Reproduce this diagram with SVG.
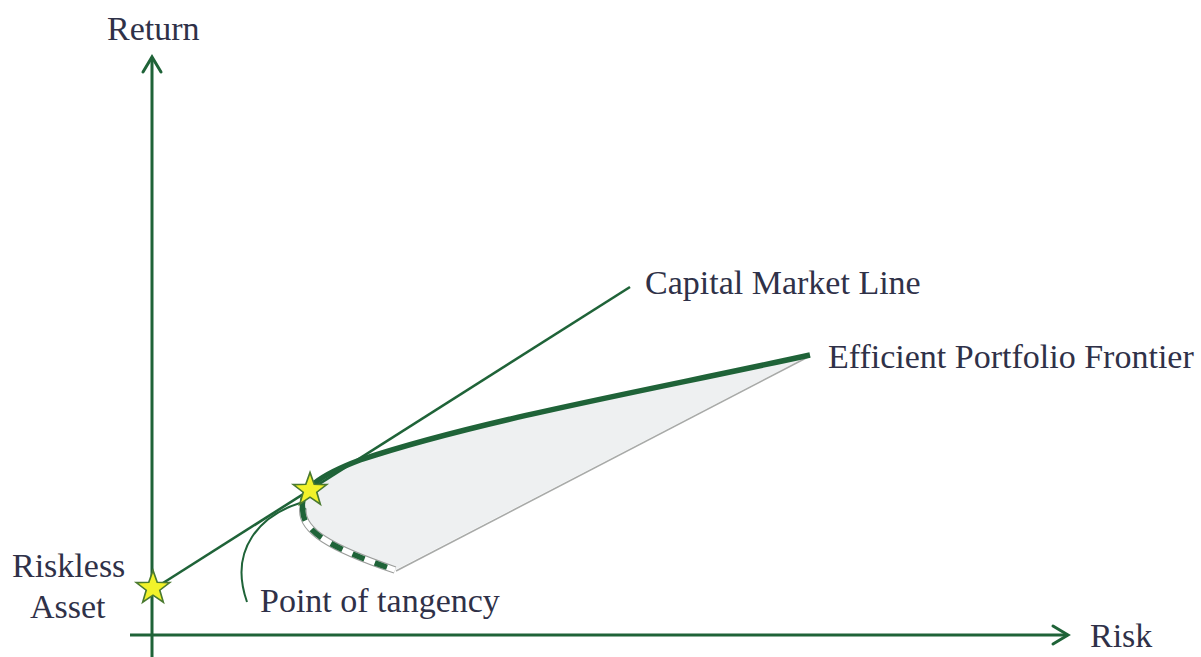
<svg xmlns="http://www.w3.org/2000/svg" width="1201" height="657" viewBox="0 0 1201 657">
<defs>
<style>
.lbl{font-family:"Liberation Serif","Times New Roman",serif;font-size:34px;fill:#2f3148}
.ax{stroke:#1f6338;stroke-width:3;fill:none}
.arr{stroke:#1f6338;stroke-width:3;fill:none;stroke-linecap:round;stroke-linejoin:miter}
.star{fill:#f2f22a;stroke:#4a7a30;stroke-width:1.5;stroke-linejoin:miter}
</style>
<path id="starShape" d="M0,-16 L3.82,-5.26 L15.22,-4.94 L6.18,2.01 L9.4,12.94 L0,6.5 L-9.4,12.94 L-6.18,2.01 L-15.22,-4.94 L-3.82,-5.26 Z"/>
</defs>
<rect width="1201" height="657" fill="#ffffff"/>
<g id="region">
<path d="M 303 510 C 298 490, 320 475, 360 460 C 480 420, 650 390, 810 355 L 395 570 C 330 548, 300 530, 303 510 Z" fill="#eef0f1"/>
<line x1="810" y1="356" x2="396" y2="571" stroke="#a8aaa8" stroke-width="1.6"/>
</g>
<g id="connectors">
<g id="axes">
<line class="ax" x1="152" y1="657" x2="152" y2="57"/>
<polyline class="arr" points="143,72 152,57 161,72"/>
<line class="ax" x1="130" y1="635" x2="1068" y2="635"/>
<polyline class="arr" points="1053,626 1068,635 1053,644"/>
</g>
<line id="cml" x1="152" y1="590" x2="630" y2="287" stroke="#1f6338" stroke-width="2.6"/>
<path id="leader" d="M 300 503 C 262 515, 228 548, 247 602" fill="none" stroke="#1f6338" stroke-width="2"/>
<g id="lower-frontier">
<path d="M 303 508 C 300 530, 330 548, 395 570" fill="none" stroke="#9a9c9a" stroke-width="7.5"/>
<path d="M 303 508 C 300 530, 330 548, 395 570" fill="none" stroke="#ffffff" stroke-width="5.5"/>
<path d="M 303 508 C 300 530, 330 548, 395 570" fill="none" stroke="#1f6338" stroke-width="5.5" stroke-dasharray="13 11"/>
</g>
<path id="frontier" d="M 303 510 C 298 490, 320 475, 360 460 C 480 420, 650 390, 810 355" fill="none" stroke="#1f6338" stroke-width="5.5"/>
</g>
<g id="riskless-star"><use href="#starShape" class="star" transform="translate(153,588) scale(1.1)"/></g>
<g id="tangency-star"><use href="#starShape" class="star" transform="translate(310,490) scale(1.1)"/></g>
<g id="labels">
<text class="lbl" x="107" y="40">Return</text>
<text class="lbl" x="1090" y="647">Risk</text>
<text class="lbl" x="645" y="294">Capital Market Line</text>
<text class="lbl" x="828" y="368">Efficient Portfolio Frontier</text>
<text class="lbl" x="12" y="577">Riskless</text>
<text class="lbl" x="30" y="618">Asset</text>
<text class="lbl" x="260" y="612">Point of tangency</text>
</g>
</svg>
